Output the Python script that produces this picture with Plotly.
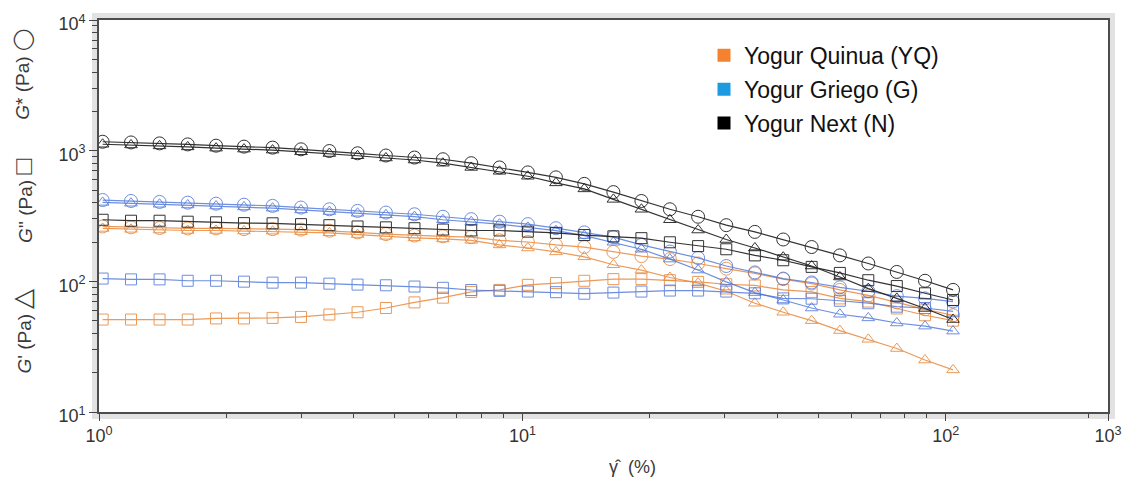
import plotly.graph_objects as go

# Strain amplitude (%) of the amplitude sweep
strain = [1.02, 1.19, 1.39, 1.62, 1.89, 2.20, 2.57, 3.00, 3.50, 4.08, 4.76,
          5.56, 6.49, 7.57, 8.83, 10.3, 12.0, 14.0, 16.4, 19.1, 22.3, 26.0,
          30.3, 35.4, 41.3, 48.2, 56.2, 65.6, 76.6, 89.3, 104]

# Yogur Quinua (YQ)
yq_gstar = [263, 259, 256, 254, 254, 251, 251, 249, 244, 237, 230, 224, 221, 218,
            206, 200, 190, 183, 168, 156, 148, 137, 125, 115, 104, 96, 86, 78, 69, 61, 55]
yq_gp = [254, 250, 247, 245, 245, 243, 242, 240, 235, 228, 221, 215, 211, 206,
         190, 180, 168, 154, 134, 122, 107, 97, 84, 68, 58, 50, 42, 36, 30.6, 25, 21]
yq_gpp = [51, 51, 51, 51, 52, 52, 52.5, 53.4, 55.7, 58, 62.5, 69, 75, 83, 86, 94,
          97, 101, 104, 104, 102, 99, 95, 93, 86, 83, 74, 70, 62, 55, 50]

# Yogur Griego (G)
g_gstar = [419, 412, 405, 400, 393, 386, 378, 367, 356, 346, 336, 326, 312, 299,
           286, 274, 255, 237, 218, 190, 169, 151, 131, 117, 105, 98, 90, 84, 77, 74, 70]
g_gp = [402, 396, 389, 384, 377, 371, 363, 352, 342, 332, 323, 313, 296, 286, 274,
        259, 244, 224, 199, 176, 148, 122, 99, 82, 72, 62.5, 56, 52.5, 48, 45.4, 41.6]
g_gpp = [105, 103.5, 103.5, 101, 101, 99.4, 97.7, 97.7, 96, 94.4, 93.3, 91.2, 89.2,
         85.8, 84.5, 83.5, 82.6, 80.4, 82, 83.5, 85, 85, 83.5, 81, 74, 73.6, 71, 68,
         64, 62.5, 59]

# Yogur Next (N)
n_gstar = [1170, 1156, 1137, 1117, 1092, 1074, 1055, 1024, 994, 955, 918, 886, 860,
           802, 744, 682, 625, 557, 482, 412, 356, 312, 269, 239, 209, 183, 158, 137,
           118, 101, 86]
n_gp = [1120, 1106, 1088, 1069, 1045, 1028, 1010, 980, 951, 914, 879, 848, 802, 744,
        695, 637, 567, 510, 424, 356, 296, 247, 209, 180, 153, 131, 108, 88, 74, 62, 51]
n_gpp = [296, 291, 291, 286, 283, 279, 278, 274, 269, 263, 259, 255, 249, 245, 245,
         240, 235, 226, 221, 214, 199, 186, 176, 158, 145, 129, 116, 102, 92, 81, 72]

legend_names = ["Yogur Quinua (YQ)", "Yogur Griego (G)", "Yogur Next (N)"]
legend_colors = ["#f5822f", "#1d9be0", "#000000"]

x_tick_labels = ["10<sup>0</sup>", "10<sup>1</sup>", "10<sup>2</sup>", "10<sup>3</sup>"]
y_tick_labels = ["10<sup>1</sup>", "10<sup>2</sup>", "10<sup>3</sup>", "10<sup>4</sup>"]

W, H = 1134, 483
ML, MR, MT, MB = 99, 21, 15, 71
PW, PH = W - ML - MR, H - MT - MB

X_EXP_MAX = 2.383          # right edge of the strain axis (log10)
X_EDGE = 10 ** X_EXP_MAX

fig = go.Figure()


def add_curve(y, color, symbol, size, opacity, lw=1.2):
    fig.add_trace(go.Scatter(
        x=strain, y=y, mode="lines+markers",
        line=dict(color=color, width=lw),
        marker=dict(symbol=symbol, size=size, color=color,
                    line=dict(color=color, width=1)),
        opacity=opacity, showlegend=False, hoverinfo="skip"))


ORANGE = "#e8893c"
BLUE = "#4a72d8"
BLACK = "#1e1e1e"

for ys, sym, sz in [(yq_gpp, "square-open", 11), (yq_gp, "triangle-up-open", 11),
                    (yq_gstar, "circle-open", 13)]:
    add_curve(ys, ORANGE, sym, sz, 0.85)
for ys, sym, sz in [(g_gpp, "square-open", 11), (g_gp, "triangle-up-open", 11),
                    (g_gstar, "circle-open", 13)]:
    add_curve(ys, BLUE, sym, sz, 0.8)
for ys, sym, sz in [(n_gpp, "square-open", 11), (n_gp, "triangle-up-open", 11),
                    (n_gstar, "circle-open", 13)]:
    add_curve(ys, BLACK, sym, sz, 0.9)

# legend-only entries
for i, (name, col) in enumerate(zip(legend_names, legend_colors)):
    fig.add_trace(go.Scatter(
        x=[None], y=[None], mode="markers", name=name, legendgroup=f"g{i}",
        marker=dict(symbol="square", size=13, color=col, line=dict(width=0))))

# light frame around the plotting area
px = 1.0 / PW
py = 1.0 / PH
fig.add_shape(type="rect", xref="paper", yref="paper",
              x0=-3.5 * px, x1=1 + 3.5 * px, y0=-3.5 * py, y1=1 + 3.5 * py,
              line=dict(color="#e2e2e2", width=7), fillcolor="rgba(0,0,0,0)",
              layer="below")

axis_font = dict(family="Liberation Sans, Arial, sans-serif", size=18, color="#333333")

fig.update_xaxes(
    type="log", range=[0, X_EXP_MAX],
    tickvals=[1, 10, 100, X_EDGE], ticktext=x_tick_labels,
    ticks="outside", ticklen=7, tickwidth=1.2, tickcolor="#444444",
    minor=dict(ticks="outside", ticklen=4, tickwidth=1, tickcolor="#444444",
               tickvals=[m * 10 ** e for e in range(0, 2) for m in range(2, 10)]
               + [10 ** 2.338]),
    showline=True, linecolor="#4d4d4d", linewidth=1.6, mirror=True,
    showgrid=False, zeroline=False, tickfont=axis_font)

fig.update_yaxes(
    type="log", range=[1, 4],
    tickvals=[10, 100, 1000, 10000], ticktext=y_tick_labels,
    ticks="outside", ticklen=8, tickwidth=1.2, tickcolor="#444444",
    ticklabelshift=4,
    minor=dict(ticks="outside", ticklen=5, tickwidth=1, tickcolor="#444444",
               tickvals=[m * 10 ** e for e in range(1, 4) for m in range(2, 10)]),
    showline=True, linecolor="#4d4d4d", linewidth=1.6, mirror=True,
    showgrid=False, zeroline=False, tickfont=axis_font)

title_font = dict(family="Liberation Sans, Arial, sans-serif", size=19, color="#3a3a3a")
y_titles = [("<i>G</i>* (Pa) " + '<span style="font-size:20px">\u25ef</span>', 70),
            ("<i>G</i>'' (Pa) " + '<span style="font-size:26px">□</span>', 198),
            ("<i>G</i>' (Pa) " + '<span style="font-size:26px">△</span>', 330)]
for text, ypix in y_titles:
    fig.add_annotation(text=text, xref="paper", yref="paper",
                       x=(22 - ML) / PW, y=1 - (ypix - MT) / PH,
                       xanchor="center", yanchor="middle", textangle=-90,
                       showarrow=False, font=title_font)

fig.add_annotation(text="γ\u0302  (%)", xref="paper", yref="paper",
                   x=(635 - ML) / PW, y=-(468 - MT - PH) / PH,
                   xanchor="center", yanchor="middle", showarrow=False,
                   font=dict(family="Liberation Sans, Arial, sans-serif", size=18,
                             color="#3a3a3a"))

fig.update_layout(
    width=W, height=H,
    margin=dict(l=ML, r=MR, t=MT, b=MB),
    paper_bgcolor="white", plot_bgcolor="white",
    showlegend=True,
    legend=dict(x=(707 - ML) / PW, y=1 - (29 - MT) / PH, xanchor="left", yanchor="top",
                bgcolor="rgba(0,0,0,0)", traceorder="grouped", tracegroupgap=1,
                font=dict(family="Liberation Sans, Arial, sans-serif", size=23,
                          color="#111111")),
)

fig.write_html("out.html")
